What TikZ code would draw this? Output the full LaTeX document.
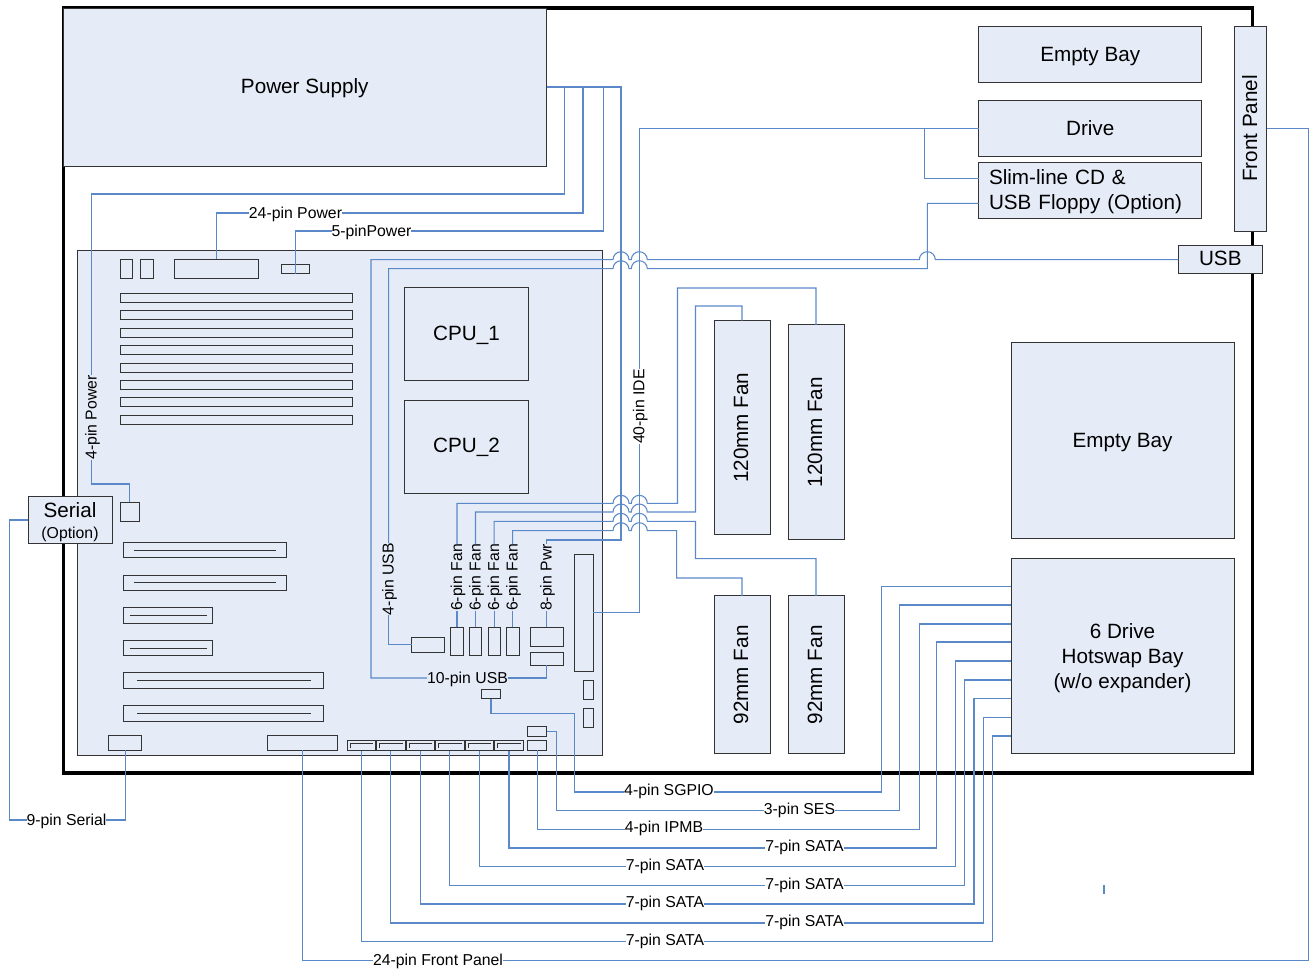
\documentclass[tikz,border=0pt]{standalone}
\usepackage{graphicx}
\usepackage{fontspec}
\setmainfont{Liberation Sans}
\definecolor{boxfill}{HTML}{E6ECF7}
\definecolor{boxline}{HTML}{333333}
\definecolor{wirecol}{HTML}{5A88C8}
\newcommand\hop[2]{-- ({#1-8},#2) arc[start angle=180,end angle=0,radius=6pt]}
\newcommand\bigtext{\fontsize{15.5}{18.75}\selectfont}
\newcommand\smalltext{\fontsize{11.85}{14}\selectfont}
\newcommand\vtext[1]{\rotatebox{90}{\rule[-1.5pt]{0pt}{1pt}#1}}
\tikzset{
  x=0.75pt,y=-0.75pt,
  wh/.style 2 args={minimum width=#1*0.75pt,minimum height=#2*0.75pt},
  box/.style={draw=boxline,fill=boxfill,line width=0.75pt,inner sep=0pt,outer sep=0pt,font=\bigtext,align=center},
  part/.style={box},
  chassisbox/.style={draw=black,line width=2.4pt,inner sep=0pt,outer sep=0pt},
  wire/.style={draw=wirecol,line width=0.8pt,line join=miter},
  lbl/.style={inner sep=0pt,outer sep=0pt,font=\smalltext,text=black,text height=9.2pt,text depth=1.65pt},
  vlbl/.style={lbl,rotate=90},
  bundlelbl/.style={lbl,text height=8.1pt,text depth=2.75pt},
  slotline/.style={draw=boxline,line width=0.75pt},
}
\begin{document}
\begin{tikzpicture}
\useasboundingbox (0,0) rectangle (1312,972);
% chassis
\node[chassisbox,wh={1189.2}{765}] (chassis) at (658.1,390.5) {};
% large blocks
\node[box,wh={483.5}{158},text depth=1.5pt] (ps) at (304.75,87) {Power Supply};
\node[box,wh={525}{505}] (board) at (339.8,502.5) {};
\node[box,wh={223}{56},text depth=0pt] (bay1) at (1090.2,54) {Empty Bay};
\node[box,wh={223}{56.4}] (drive) at (1090.2,128.5) {Drive};
\node[box,wh={223}{55.6},align=left,text width=202.4*0.75pt] (slim) at (1090.2,190.5) {\rule{0pt}{12.8pt}Slim-line CD \&\\USB Floppy (Option)};
\node[box,wh={32.4}{205}] (fp) at (1250.5,128.5) {\vtext{Front Panel}};
\node[box,wh={84}{28},text depth=1.5pt] (usb) at (1220.3,259.7) {USB};
\node[box,wh={223}{196},text depth=0pt] (bay2) at (1122.5,440.5) {Empty Bay};
\node[box,wh={223}{195}] (hs) at (1122.5,656) {\rule{0pt}{14.3pt}6 Drive\\Hotswap Bay\\(w/o expander)};
\node[box,wh={56}{214}] (fan1) at (742,427.7) {\vtext{120mm Fan}};
\node[box,wh={56}{215}] (fan2) at (816,432.3) {\vtext{120mm Fan}};
\node[box,wh={56}{158}] (fan3) at (742,674.8) {\vtext{92mm Fan}};
\node[box,wh={56}{158}] (fan4) at (816,674.8) {\vtext{92mm Fan}};
\node[box,wh={84}{46.6}] (ser) at (70,520) {\rule{0pt}{14.3pt}Serial\\[-2.5pt]{\smalltext (Option)}};
% board parts
\node[part,wh={12.7}{19.4}] (m1) at (126.35,269) {};
\node[part,wh={13}{19.4}] (m2) at (147.2,269) {};
\node[part,wh={84.4}{19.4}] (atx) at (216.5,269) {};
\node[part,wh={28.4}{9.7}] (aux) at (295.5,268.85) {};
\node[part,wh={232.7}{9}] (d1) at (236.35,297.8) {};
\node[part,wh={232.7}{9}] (d2) at (236.35,315.2) {};
\node[part,wh={232.7}{9}] (d3) at (236.35,332.7) {};
\node[part,wh={232.7}{9}] (d4) at (236.35,350) {};
\node[part,wh={232.7}{9}] (d5) at (236.35,367.7) {};
\node[part,wh={232.7}{9}] (d6) at (236.35,385) {};
\node[part,wh={232.7}{9}] (d7) at (236.35,402.4) {};
\node[part,wh={232.7}{9}] (d8) at (236.35,420) {};
\node[part,wh={19}{19.4}] (pwr4) at (129.5,512) {};
\node[part,wh={123.6}{93},text depth=1.5pt] (cpu1) at (466.5,334.3) {CPU\_1};
\node[part,wh={123.6}{93},text depth=1.5pt] (cpu2) at (466.5,446.6) {CPU\_2};
\node[part,wh={163}{15.4}] (p1) at (205.2,550) {};
\node[part,wh={163}{15.4}] (p2) at (205.2,582.7) {};
\node[part,wh={88.6}{16}] (p3) at (168,615.3) {};
\node[part,wh={88.6}{15.4}] (p4) at (168,648) {};
\node[part,wh={200}{15.6}] (p5) at (223.7,680.5) {};
\node[part,wh={200}{15.6}] (p6) at (223.7,713.5) {};
\draw[slotline] (134.3,550) -- (276,550);
\draw[slotline] (134.3,582.7) -- (276,582.7);
\draw[slotline] (129.7,615.3) -- (206.7,615.3);
\draw[slotline] (129.7,648) -- (206.7,648);
\draw[slotline] (137,680.7) -- (310.7,680.7);
\draw[slotline] (137,713.3) -- (310.7,713.3);
\node[part,wh={33}{14.6}] (com) at (125.2,743) {};
\node[part,wh={70}{14.6}] (fpc) at (302.7,743) {};
\node[part,wh={33}{14.3}] (usb4) at (428.2,644.85) {};
\node[part,wh={12.6}{28.4}] (hdr1) at (457,641.5) {};
\node[part,wh={12.4}{28.4}] (hdr2) at (475.5,641.5) {};
\node[part,wh={12.3}{28.4}] (hdr3) at (494.15,641.5) {};
\node[part,wh={12.7}{28.4}] (hdr4) at (512.65,641.5) {};
\node[part,wh={32.7}{19}] (pwr8) at (546.7,636.8) {};
\node[part,wh={32.7}{13.3}] (usb10) at (546.7,658.65) {};
\node[part,wh={19}{117.7}] (ide) at (583.8,612.85) {};
\node[part,wh={9.6}{19}] (sm1) at (588.5,689.5) {};
\node[part,wh={9.6}{19}] (sm2) at (588.5,717.5) {};
\node[part,wh={18.6}{9.4}] (sg) at (491,694) {};
\node[part,wh={19}{9.6}] (sesb) at (537.2,731.5) {};
\node[part,wh={19}{10}] (ipb) at (537.2,745.3) {};
\node[part,wh={28.7}{10.4}] (sa) at (361.35,745.5) {};
\node[part,wh={28.3}{10.4}] (sb) at (390.85,745.5) {};
\node[part,wh={28.3}{10.4}] (sc) at (420.15,745.5) {};
\node[part,wh={28.3}{10.4}] (sd) at (449.85,745.5) {};
\node[part,wh={28.3}{10.4}] (se) at (479.15,745.5) {};
\node[part,wh={29.4}{10.4}] (sf) at (509,745.5) {};
\foreach \sx in {347,376.7,406,435.7,465,494.3}
  \draw[slotline] ({\sx+3},748.3) -- ({\sx+3},743.3) -- ({\sx+26.3},743.3);
% labels
\node[vlbl] (l4pw) at (91.5,417.5) {4-pin Power};
\node[lbl] (l24p) at (295.5,213) {24-pin Power};
\node[lbl] (l5p) at (371.5,231) {5-pinPower};
\node[vlbl] (l40) at (639.3,406.5) {40-pin IDE};
\node[vlbl] (l4u) at (388.7,579) {4-pin USB};
\node[vlbl] (l6a) at (457,577.5) {6-pin Fan};
\node[vlbl] (l6b) at (475.5,577.5) {6-pin Fan};
\node[vlbl] (l6c) at (494.15,577.5) {6-pin Fan};
\node[vlbl] (l6d) at (512.65,577.5) {6-pin Fan};
\node[vlbl] (l8p) at (546.7,577.5) {8-pin Pwr};
\node[lbl] (l10u) at (467.5,678) {10-pin USB};
\node[lbl] (l9) at (66.5,820) {9-pin Serial};
\node[bundlelbl] (lsg) at (669,792) {4-pin SGPIO};
\node[bundlelbl] (lses) at (799.5,810.5) {3-pin SES};
\node[bundlelbl] (lip) at (664,829.3) {4-pin IPMB};
\node[bundlelbl] (lsf) at (804.5,848) {7-pin SATA};
\node[bundlelbl] (lse) at (665,866.8) {7-pin SATA};
\node[bundlelbl] (lsd) at (804.5,885.5) {7-pin SATA};
\node[bundlelbl] (lsc) at (665,904) {7-pin SATA};
\node[bundlelbl] (lsb) at (804.5,923) {7-pin SATA};
\node[bundlelbl] (lsa) at (665,941.5) {7-pin SATA};
\node[lbl] (lfp) at (438,960.3) {24-pin Front Panel};
% wires from the power supply
\draw[wire] (ps.east) -- (564.3,87) -- (564.3,194) -- (91.5,194) -- (l4pw.east);
\draw[wire] (l4pw.west) -- (91.5,484) -- (129.5,484) -- (pwr4.north);
\draw[wire] (ps.east) -- (583,87) -- (583,213) -- (l24p.east);
\draw[wire] (l24p.west) -- (216.5,213) -- (atx.north);
\draw[wire] (ps.east) -- (603.3,87) -- (603.3,231) -- (l5p.east);
\draw[wire] (l5p.west) -- (295.5,231) -- (aux.south);
\draw[wire] (ps.east) -- (621,87) -- (621,540) -- (546.7,540) -- (l8p.east);
\draw[wire] (l8p.west) -- (pwr8.north);
% USB
\draw[wire] (usb10.south) -- (546.7,678) -- (l10u.east);
\draw[wire] (l10u.west) -- (371,678) -- (371,259.7) \hop{621}{259.7} \hop{639.3}{259.7} \hop{927.3}{259.7} -- (usb.west);
\draw[wire] (usb4.west) -- (388.7,644.85) -- (l4u.west);
\draw[wire] (l4u.east) -- (388.7,268.7) \hop{621}{268.7} \hop{639.3}{268.7} -- (927.3,268.7) -- (927.3,203.3) -- (slim.west |- 0,203.3);
% IDE
\draw[wire] (drive.west) -- (639.3,128.5) -- (l40.east);
\draw[wire] (l40.west) -- (639.3,612.85) -- (ide.east);
\draw[wire] (drive.west) -- (924.7,128.5) -- (924.7,178.3) -- (slim.west |- 0,178.3);
% front panel and serial
\draw[wire] (fp.east) -- (1308.3,128.5) -- (1308.3,960.3) -- (lfp.east);
\draw[wire] (lfp.west) -- (302.7,960.3) -- (fpc.south);
\draw[wire] (ser.west) -- (9.3,520) -- (9.3,820) -- (l9.west);
\draw[wire] (l9.east) -- (125.2,820) -- (com.south);
% fans
\draw[wire] (hdr1.north) -- (l6a.west);
\draw[wire] (l6a.east) -- (457,503.3) \hop{621}{503.3} \hop{639.3}{503.3} -- (677.5,503.3) -- (677.5,288) -- (816,288) -- (fan2.north);
\draw[wire] (hdr2.north) -- (l6b.west);
\draw[wire] (l6b.east) -- (475.5,512) \hop{621}{512} \hop{639.3}{512} -- (695.5,512) -- (695.5,306) -- (742,306) -- (fan1.north);
\draw[wire] (hdr3.north) -- (l6c.west);
\draw[wire] (l6c.east) -- (494.15,521.3) \hop{621}{521.3} \hop{639.3}{521.3} -- (695.5,521.3) -- (695.5,558.7) -- (816,558.7) -- (fan4.north);
\draw[wire] (hdr4.north) -- (l6d.west);
\draw[wire] (l6d.east) -- (512.65,530.7) \hop{621}{530.7} \hop{639.3}{530.7} -- (676.7,530.7) -- (676.7,578) -- (742,578) -- (fan3.north);
% bottom bundle
\draw[wire] (sg.south) -- (491,713.7) -- (574.3,713.7) -- (574.3,792) -- (lsg.west);
\draw[wire] (lsg.east) -- (881.3,792) -- (881.3,586.3) -- (hs.west |- 0,586.3);
\draw[wire] (sesb.east) -- (556.3,731.5) -- (556.3,810.5) -- (lses.west);
\draw[wire] (lses.east) -- (899.7,810.5) -- (899.7,605) -- (hs.west |- 0,605);
\draw[wire] (ipb.south) -- (537.2,829.3) -- (lip.west);
\draw[wire] (lip.east) -- (919.3,829.3) -- (919.3,624) -- (hs.west |- 0,624);
\draw[wire] (sf.south) -- (509,848) -- (lsf.west);
\draw[wire] (lsf.east) -- (936.7,848) -- (936.7,642) -- (hs.west |- 0,642);
\draw[wire] (se.south) -- (479.15,866.8) -- (lse.west);
\draw[wire] (lse.east) -- (955.3,866.8) -- (955.3,661) -- (hs.west |- 0,661);
\draw[wire] (sd.south) -- (449.85,885.5) -- (lsd.west);
\draw[wire] (lsd.east) -- (964.7,885.5) -- (964.7,680) -- (hs.west |- 0,680);
\draw[wire] (sc.south) -- (420.15,904) -- (lsc.west);
\draw[wire] (lsc.east) -- (974,904) -- (974,698.7) -- (hs.west |- 0,698.7);
\draw[wire] (sb.south) -- (390.85,923) -- (lsb.west);
\draw[wire] (lsb.east) -- (983.3,923) -- (983.3,717.3) -- (hs.west |- 0,717.3);
\draw[wire] (sa.south) -- (361.35,941.5) -- (lsa.west);
\draw[wire] (lsa.east) -- (992.7,941.5) -- (992.7,736) -- (hs.west |- 0,736);
% stray tick
\coordinate (ticka) at (1104,885);
\coordinate (tickb) at (1104,894);
\draw[wire] (ticka) -- (tickb);
\end{tikzpicture}
\end{document}
